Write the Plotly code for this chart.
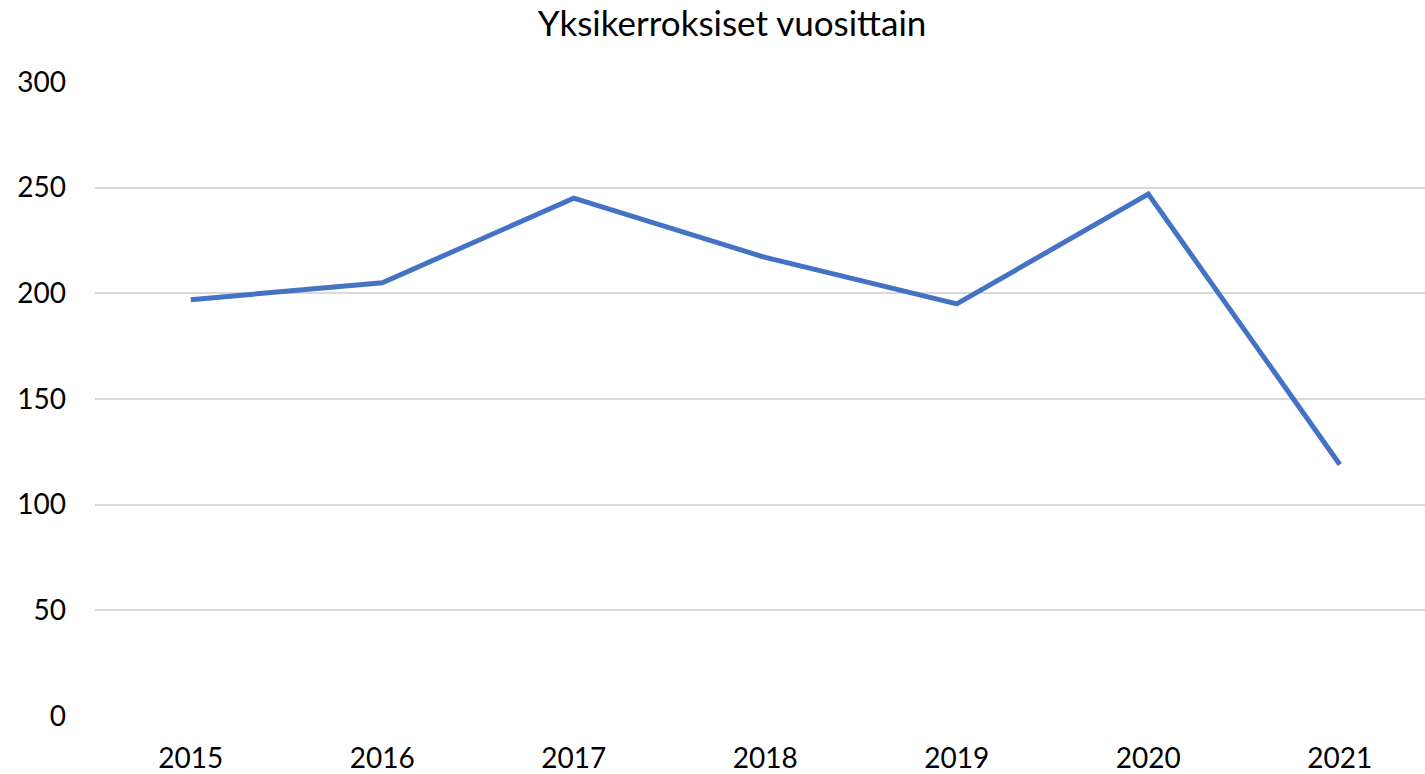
import plotly.graph_objects as go

years = ["2015", "2016", "2017", "2018", "2019", "2020", "2021"]
values = [197, 205, 245, 217, 195, 247, 119]
y_ticks = [0, 50, 100, 150, 200, 250, 300]

FONT = "Lato"

fig = go.Figure()
fig.add_trace(go.Scatter(
    x=years, y=values, mode="lines",
    line=dict(color="#4472C4", width=5),
    hoverinfo="x+y",
))

fig.update_layout(
    width=1425, height=774,
    margin=dict(l=95, r=0, t=82, b=58),
    paper_bgcolor="white", plot_bgcolor="white",
    showlegend=False,
    title=dict(text="Yksikerroksiset vuosittain", x=0.5137, xanchor="center",
               y=0.969, yanchor="middle",
               font=dict(family=FONT, size=35, color="#000000")),
    font=dict(family=FONT, size=28, color="#000000"),
    xaxis=dict(
        type="category", range=[-0.5, 6.445], automargin=False,
        showgrid=False, zeroline=False, showline=False,
        ticks="", ticklabelstandoff=23,
        tickfont=dict(family=FONT, size=28, color="#000000"),
    ),
    yaxis=dict(
        range=[0, 300], tickvals=y_ticks, automargin=False,
        showgrid=True, gridcolor="#d9d9d9", gridwidth=1.5,
        zeroline=False, showline=False,
        ticks="", ticklabelstandoff=28,
        tickfont=dict(family=FONT, size=28, color="#000000"),
    ),
)

fig.write_html(
    "out.html",
    config={"displayModeBar": False},
    post_script="document.body.style.margin='0';document.body.style.overflow='hidden';",
)
